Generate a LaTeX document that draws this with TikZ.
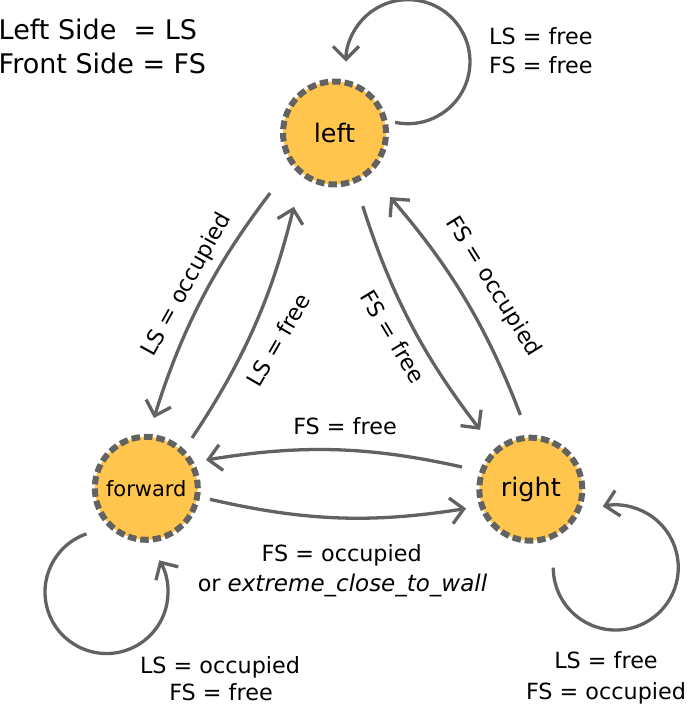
\documentclass[tikz,border=0pt]{standalone}
\usepackage{fontspec}
\setmainfont{DejaVu Sans}
\usetikzlibrary{arrows.meta}
\definecolor{nodefill}{RGB}{255,197,77}
\definecolor{linegray}{RGB}{98,98,98}
\begin{document}
\begin{tikzpicture}[x=1pt,y=1pt,
  state/.style={circle, fill=nodefill, draw=linegray, line width=6pt,
    dash pattern=on 8.5pt off 3.95pt, line cap=butt, minimum size=103pt,
    inner sep=0pt, outer sep=0pt, font=\fontsize{25.5}{30}\selectfont},
  edgeline/.style={draw=linegray, line width=3.3pt, -{Straight Barb[length=13pt,width=26pt]}},
  lbl/.style={font=\fontsize{22.3}{26}\selectfont, inner sep=0pt},
  legend/.style={font=\fontsize{27}{30}\selectfont, inner sep=0pt, anchor=base west},
]
\useasboundingbox (0,0) rectangle (686,704);

\node[state] (left) at (334.5,571) {left};
\node[state] (forward) at (146.3,215.7) {\fontsize{21}{25}\selectfont forward};
\node[state] (right) at (530.8,214.8) {right};

% transitions
\draw[edgeline, shorten <=37.5pt, shorten >=19.7pt] (left.216) to[out=232.7, in=72.7] (forward.88);
\draw[edgeline, shorten <=16.7pt, shorten >=34.8pt] (forward.45) to[out=56.2, in=256.2] (left.231);
\draw[edgeline, shorten <=27pt, shorten >=26.6pt] (left.293) to[out=287.6, in=127.6] (right.132);
\draw[edgeline, shorten <=24.3pt, shorten >=33.3pt] (right.92) to[out=110.8, in=310.8] (left.311);
\draw[edgeline, shorten <=20.9pt, shorten >=15.3pt] (right.160) to[out=167.4, in=9.4] (forward.30);
\draw[edgeline, shorten <=13.1pt, shorten >=16.2pt] (forward.351) to[out=347, in=189] (right.199);

% self loops
\draw[edgeline] (left.10) ++(10:10pt) arc[start angle=-102, end angle=180, radius=62pt];
\draw[edgeline] (forward.217) ++(218:23.7pt) arc[start angle=109, end angle=391, radius=61.5pt];
\draw[edgeline] (right.286) ++(286:30pt) arc[start angle=180, end angle=462, radius=62.5pt];

% legend
\node[legend] (leg1) at (-1.5,664.7) {Left Side~ = LS};
\node[legend] (leg2) at (-1.5,630) {Front Side = FS};

% labels
\node[lbl, anchor=base west] (l1a) at (489,659) {LS = free};
\node[lbl, anchor=base west] (l1b) at (489,630) {FS = free};

\node[lbl, rotate=61] (l2) at (186.7,419) {LS = occupied};
\node[lbl, rotate=60] (l3) at (278.3,364) {LS = free};
\node[lbl, rotate=-59] (l4) at (393.3,367.3) {FS = free};
\node[lbl, rotate=-58] (l5) at (493.3,417.3) {FS = occupied};

\node[lbl, anchor=base] (l6) at (345,269) {FS = free};
\node[lbl, anchor=base] (l7a) at (341.7,142.3) {FS = occupied};
\node[lbl, anchor=base] (l7b) at (342.5,112.3) {or \textit{\fontsize{23}{26}\selectfont extreme\_close\_to\_wall}};

\node[lbl, anchor=base] (l8a) at (220,30) {LS = occupied};
\node[lbl, anchor=base] (l8b) at (221,3) {FS = free};

\node[lbl, anchor=base] (l9a) at (606,35) {LS = free};
\node[lbl, anchor=base] (l9b) at (606,5) {FS = occupied};
\end{tikzpicture}
\end{document}
